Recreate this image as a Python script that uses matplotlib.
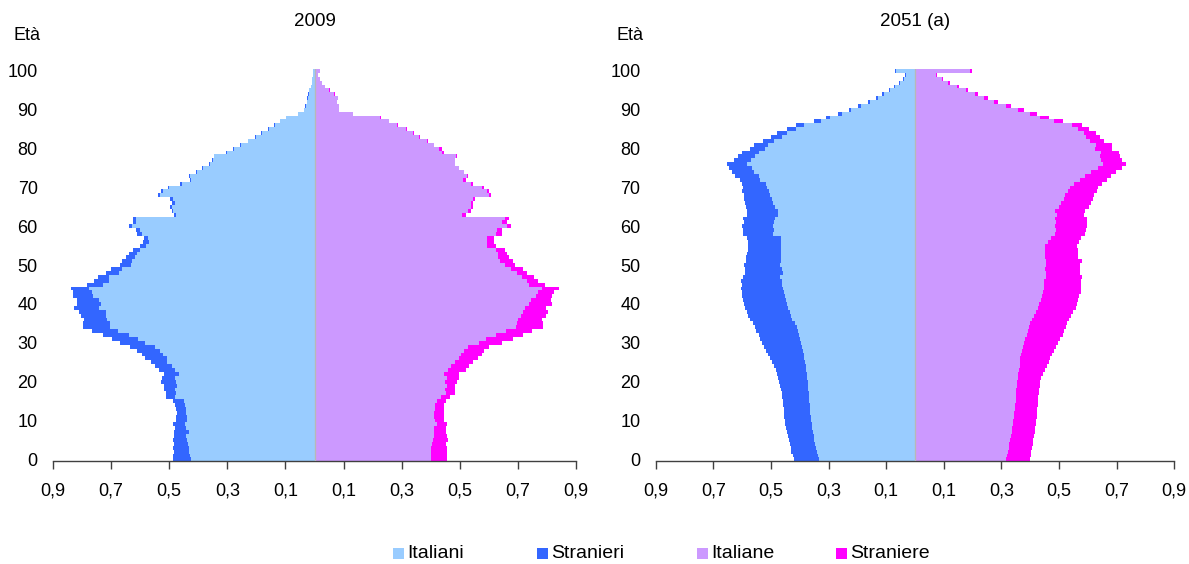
import matplotlib
matplotlib.use("Agg")
import matplotlib.pyplot as plt
import numpy as np
from matplotlib.patches import Rectangle

plt.rcParams['font.family'] = ['Liberation Sans', 'DejaVu Sans']

ages = list(range(0, 101))

# ---- 2009 (percent of total population, by single year of age) ----
italiani_2009 = [
    0.425, 0.428, 0.432, 0.432, 0.435, 0.439, 0.442, 0.432, 0.442, 0.446,
    0.439, 0.439, 0.442, 0.442, 0.446, 0.449, 0.480, 0.477, 0.480, 0.473,
    0.477, 0.480, 0.466, 0.480, 0.491, 0.506, 0.506, 0.522, 0.532, 0.549,
    0.584, 0.607, 0.639, 0.678, 0.704, 0.705, 0.715, 0.718, 0.718, 0.742,
    0.735, 0.742, 0.763, 0.766, 0.777, 0.729, 0.708, 0.706, 0.673, 0.663,
    0.632, 0.628, 0.618, 0.611, 0.600, 0.580, 0.570, 0.573, 0.595, 0.601,
    0.628, 0.615, 0.615, 0.477, 0.486, 0.490, 0.480, 0.487, 0.532, 0.523,
    0.500, 0.457, 0.426, 0.428, 0.405, 0.385, 0.359, 0.350, 0.345, 0.302,
    0.278, 0.254, 0.228, 0.203, 0.180, 0.158, 0.135, 0.118, 0.098, 0.056,
    0.035, 0.030, 0.025, 0.023, 0.020, 0.018, 0.013, 0.010, 0.007, 0.005,
    0.0045]
stranieri_2009 = [
    0.062, 0.059, 0.052, 0.055, 0.049, 0.048, 0.042, 0.052, 0.038, 0.041,
    0.038, 0.038, 0.031, 0.035, 0.034, 0.038, 0.031, 0.034, 0.038, 0.045,
    0.051, 0.045, 0.052, 0.056, 0.058, 0.057, 0.078, 0.072, 0.079, 0.087,
    0.086, 0.090, 0.090, 0.089, 0.093, 0.092, 0.079, 0.086, 0.093, 0.086,
    0.083, 0.076, 0.069, 0.066, 0.062, 0.055, 0.052, 0.040, 0.045, 0.037,
    0.038, 0.035, 0.031, 0.028, 0.025, 0.020, 0.021, 0.014, 0.017, 0.014,
    0.010, 0.010, 0.010, 0.007, 0.006, 0.007, 0.010, 0.010, 0.007, 0.007,
    0.003, 0.006, 0.004, 0.003, 0.002, 0.003, 0.003, 0.003, 0.002, 0.003,
    0.002, 0.002, 0.002, 0.002, 0.003, 0.002, 0.003, 0.001, 0.001, 0.001,
    0.001, 0.002, 0.001, 0.004, 0.001, 0.001, 0.0, 0.0, 0.0, 0.0,
    0.0]
italiane_2009 = [
    0.402, 0.402, 0.402, 0.402, 0.406, 0.409, 0.413, 0.413, 0.413, 0.420,
    0.416, 0.413, 0.413, 0.416, 0.416, 0.423, 0.434, 0.454, 0.450, 0.457,
    0.450, 0.457, 0.444, 0.461, 0.471, 0.482, 0.499, 0.503, 0.513, 0.530,
    0.565, 0.589, 0.623, 0.658, 0.692, 0.696, 0.702, 0.709, 0.716, 0.723,
    0.737, 0.744, 0.761, 0.768, 0.782, 0.737, 0.733, 0.713, 0.696, 0.678,
    0.654, 0.640, 0.633, 0.630, 0.623, 0.592, 0.592, 0.595, 0.623, 0.627,
    0.661, 0.647, 0.654, 0.509, 0.527, 0.537, 0.537, 0.547, 0.602, 0.592,
    0.578, 0.540, 0.511, 0.525, 0.513, 0.497, 0.482, 0.482, 0.486, 0.440,
    0.430, 0.410, 0.386, 0.361, 0.338, 0.316, 0.285, 0.255, 0.227, 0.131,
    0.085, 0.083, 0.077, 0.081, 0.066, 0.051, 0.037, 0.026, 0.020, 0.013,
    0.020]
straniere_2009 = [
    0.055, 0.055, 0.055, 0.055, 0.048, 0.052, 0.044, 0.041, 0.038, 0.037,
    0.031, 0.034, 0.034, 0.031, 0.031, 0.028, 0.031, 0.031, 0.032, 0.028,
    0.039, 0.041, 0.052, 0.059, 0.062, 0.065, 0.062, 0.072, 0.072, 0.069,
    0.080, 0.093, 0.093, 0.089, 0.093, 0.089, 0.080, 0.087, 0.086, 0.073,
    0.079, 0.069, 0.055, 0.058, 0.058, 0.055, 0.035, 0.041, 0.037, 0.038,
    0.035, 0.042, 0.038, 0.031, 0.031, 0.031, 0.027, 0.024, 0.021, 0.020,
    0.017, 0.017, 0.014, 0.011, 0.010, 0.010, 0.010, 0.007, 0.007, 0.007,
    0.007, 0.007, 0.009, 0.003, 0.003, 0.002, 0.002, 0.002, 0.004, 0.004,
    0.008, 0.003, 0.003, 0.003, 0.003, 0.002, 0.002, 0.003, 0.002, 0.003,
    0.001, 0.001, 0.002, 0.001, 0.003, 0.001, 0.0, 0.0, 0.0, 0.0,
    0.0]

# ---- 2051 (a) ----
italiani_2051 = [
    0.334, 0.338, 0.341, 0.344, 0.347, 0.349, 0.352, 0.355, 0.357, 0.359,
    0.360, 0.362, 0.363, 0.365, 0.366, 0.367, 0.368, 0.369, 0.370, 0.371,
    0.372, 0.374, 0.375, 0.377, 0.379, 0.381, 0.385, 0.386, 0.389, 0.392,
    0.395, 0.399, 0.402, 0.406, 0.410, 0.418, 0.427, 0.431, 0.434, 0.441,
    0.444, 0.448, 0.451, 0.455, 0.458, 0.462, 0.462, 0.469, 0.458, 0.462,
    0.469, 0.465, 0.465, 0.465, 0.465, 0.465, 0.465, 0.465, 0.493, 0.490,
    0.493, 0.490, 0.486, 0.476, 0.476, 0.486, 0.493, 0.497, 0.503, 0.507,
    0.514, 0.517, 0.538, 0.542, 0.559, 0.566, 0.583, 0.569, 0.556, 0.542,
    0.521, 0.510, 0.490, 0.462, 0.445, 0.413, 0.386, 0.327, 0.295, 0.254,
    0.223, 0.188, 0.157, 0.129, 0.108, 0.087, 0.070, 0.053, 0.039, 0.032,
    0.067]
stranieri_2051 = [
    0.086, 0.087, 0.088, 0.088, 0.088, 0.089, 0.089, 0.089, 0.090, 0.091,
    0.092, 0.092, 0.092, 0.091, 0.091, 0.091, 0.092, 0.093, 0.094, 0.097,
    0.099, 0.101, 0.104, 0.107, 0.110, 0.114, 0.118, 0.124, 0.128, 0.132,
    0.136, 0.138, 0.140, 0.145, 0.146, 0.145, 0.146, 0.149, 0.149, 0.149,
    0.150, 0.149, 0.150, 0.146, 0.146, 0.139, 0.142, 0.128, 0.132, 0.128,
    0.125, 0.122, 0.122, 0.118, 0.115, 0.115, 0.115, 0.118, 0.104, 0.107,
    0.108, 0.104, 0.111, 0.107, 0.107, 0.101, 0.097, 0.097, 0.091, 0.094,
    0.083, 0.083, 0.069, 0.083, 0.076, 0.079, 0.069, 0.059, 0.059, 0.058,
    0.052, 0.049, 0.038, 0.038, 0.034, 0.032, 0.027, 0.024, 0.014, 0.014,
    0.007, 0.010, 0.007, 0.007, 0.007, 0.003, 0.003, 0.003, 0.003, 0.002,
    0.003]
italiane_2051 = [
    0.316, 0.320, 0.323, 0.325, 0.327, 0.329, 0.333, 0.336, 0.338, 0.339,
    0.341, 0.343, 0.345, 0.346, 0.348, 0.349, 0.350, 0.351, 0.352, 0.353,
    0.355, 0.356, 0.358, 0.361, 0.363, 0.365, 0.366, 0.367, 0.371, 0.375,
    0.379, 0.383, 0.388, 0.391, 0.395, 0.398, 0.405, 0.412, 0.419, 0.426,
    0.429, 0.436, 0.440, 0.443, 0.447, 0.447, 0.447, 0.454, 0.454, 0.450,
    0.454, 0.454, 0.451, 0.451, 0.450, 0.450, 0.461, 0.471, 0.485, 0.488,
    0.485, 0.488, 0.485, 0.492, 0.485, 0.499, 0.506, 0.516, 0.520, 0.530,
    0.537, 0.551, 0.572, 0.589, 0.610, 0.634, 0.652, 0.645, 0.641, 0.645,
    0.624, 0.627, 0.606, 0.592, 0.585, 0.565, 0.544, 0.481, 0.433, 0.398,
    0.357, 0.315, 0.273, 0.239, 0.207, 0.176, 0.145, 0.114, 0.093, 0.072,
    0.190]
straniere_2051 = [
    0.082, 0.081, 0.081, 0.081, 0.081, 0.081, 0.080, 0.079, 0.080, 0.080,
    0.080, 0.079, 0.079, 0.079, 0.078, 0.078, 0.078, 0.078, 0.079, 0.080,
    0.079, 0.082, 0.086, 0.091, 0.095, 0.100, 0.104, 0.110, 0.112, 0.115,
    0.119, 0.122, 0.124, 0.127, 0.128, 0.129, 0.128, 0.128, 0.128, 0.132,
    0.132, 0.129, 0.128, 0.132, 0.128, 0.128, 0.128, 0.124, 0.118, 0.122,
    0.118, 0.124, 0.114, 0.114, 0.115, 0.111, 0.107, 0.104, 0.104, 0.104,
    0.111, 0.108, 0.111, 0.093, 0.104, 0.104, 0.104, 0.101, 0.100, 0.101,
    0.097, 0.097, 0.093, 0.090, 0.087, 0.083, 0.079, 0.072, 0.069, 0.062,
    0.059, 0.056, 0.049, 0.049, 0.042, 0.038, 0.034, 0.032, 0.031, 0.025,
    0.021, 0.017, 0.014, 0.013, 0.011, 0.007, 0.007, 0.007, 0.003, 0.004,
    0.007]

panel_titles = ["2009", "2051 (a)"]
legend_labels = ["Italiani", "Stranieri", "Italiane", "Straniere"]
xtick_values = [-0.9, -0.7, -0.5, -0.3, -0.1, 0.1, 0.3, 0.5, 0.7, 0.9]
xtick_labels = ["0,9", "0,7", "0,5", "0,3", "0,1", "0,1", "0,3", "0,5", "0,7", "0,9"]
ytick_values = list(range(0, 101, 10))

C_ITA_M = "#99CCFF"
C_STR_M = "#3366FF"
C_ITA_F = "#CC99FF"
C_STR_F = "#FF00FF"
FS = 13

W, H = 1189, 564
fig = plt.figure(figsize=(W / 100, H / 100), dpi=100)

panels = [
    (italiani_2009, stranieri_2009, italiane_2009, straniere_2009, (53, 576)),
    (italiani_2051, stranieri_2051, italiane_2051, straniere_2051, (655.7, 1174.3)),
]

y_bottom_px, y_top_px = 461.3, 69.0
for idx, (im, sm, iff, sf, (x0, x1)) in enumerate(panels):
    ax = fig.add_axes([x0 / W, (H - y_bottom_px) / H, (x1 - x0) / W,
                       (y_bottom_px - y_top_px) / H])
    a = np.array(ages)
    im_ = np.array(im); sm_ = np.array(sm)
    if_ = np.array(iff); sf_ = np.array(sf)
    kw = dict(height=1.0, linewidth=0, antialiased=False)
    ax.barh(a, -im_, color=C_ITA_M, **kw)
    ax.barh(a, -sm_, left=-im_, color=C_STR_M, **kw)
    ax.barh(a, if_, color=C_ITA_F, **kw)
    ax.barh(a, sf_, left=if_, color=C_STR_F, **kw)
    ax.axvline(0, color="#b8b8b8", lw=1.0, zorder=3)

    ax.set_xlim(-0.9, 0.9)
    ax.set_ylim(-0.5, 100.5)
    for s in ["top", "right", "left"]:
        ax.spines[s].set_visible(False)
    ax.spines["bottom"].set_color("#404040")
    ax.spines["bottom"].set_linewidth(1.0)
    ax.set_xticks(xtick_values)
    ax.set_xticklabels(xtick_labels)
    ax.tick_params(axis="x", direction="out", length=6, width=1,
                   color="#404040", labelsize=FS, pad=9)
    ax.set_yticks(ytick_values)
    ax.set_yticklabels([str(v) for v in ytick_values])
    ax.tick_params(axis="y", length=0, labelsize=FS, pad=11)
    cx = (x0 + x1) / 2
    fig.text(cx / W, (H - 22) / H, panel_titles[idx], fontsize=13.5,
             ha="center", va="center")
    fig.text((x0 - 26) / W, (H - 35) / H, "Età", fontsize=FS,
             ha="center", va="center")

# legend: coloured squares with labels along the bottom
legend_colors = [C_ITA_M, C_STR_M, C_ITA_F, C_STR_F]
legend_x_px = [393, 537, 697, 836]
sq = 11
for lx, col, lab in zip(legend_x_px, legend_colors, legend_labels):
    fig.add_artist(Rectangle((lx / W, (H - 559) / H), sq / W, sq / H,
                             transform=fig.transFigure, facecolor=col,
                             edgecolor="none"))
    fig.text((lx + sq + 3) / W, (H - 553.5) / H, lab, fontsize=14,
             ha="left", va="center")

fig.savefig("out.png", dpi=100)
